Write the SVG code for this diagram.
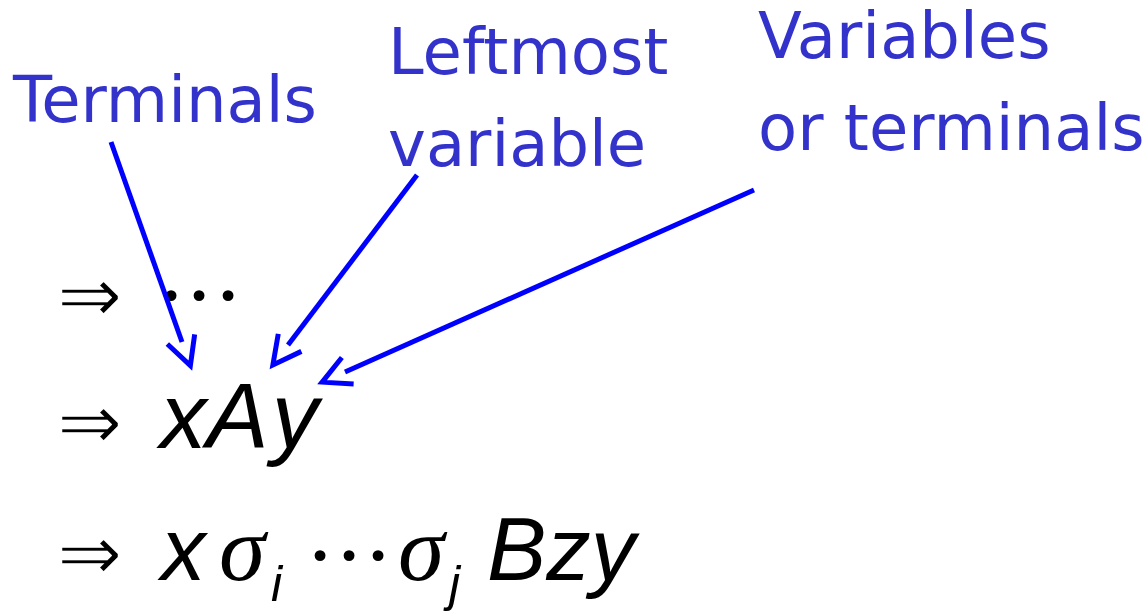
<svg xmlns="http://www.w3.org/2000/svg" width="1148" height="612" viewBox="0 0 1148 612">
<style>
.lbl{font-family:"DejaVu Sans",sans-serif;font-size:64px;fill:#3333cc}
.arr{font-family:"DejaVu Sans",sans-serif;font-size:78px;fill:#000;stroke:#fff;stroke-width:1.5}
.it{font-family:"Liberation Sans",Arial,sans-serif;font-style:italic;font-size:89px;fill:#000}
.big{font-size:93px}
.sg{font-family:"Liberation Serif","Times New Roman",serif;font-style:italic;font-size:94px}
.sub{font-size:50px}
.dot{font-family:"Liberation Serif","Times New Roman",serif;font-size:92px;fill:#000}
.conn{stroke:#0000ff;stroke-width:5;fill:none}
</style>
<defs>
<marker id="vhead" markerUnits="userSpaceOnUse" orient="auto" refX="0" refY="0" markerWidth="60" markerHeight="60" viewBox="-10 -30 60 60" overflow="visible">
<path d="M -3 -14.5 L 25 0 L -3 14.5" fill="none" stroke="#0000ff" stroke-width="5"/>
</marker>
</defs>
<rect width="1148" height="612" fill="#fff"/>
<g id="label-terminals"><text class="lbl" x="13" y="122">Terminals</text></g>
<g id="label-leftmost"><text class="lbl" x="388" y="74">Leftmost</text><text class="lbl" x="388" y="166">variable</text></g>
<g id="label-vars"><text class="lbl" x="758" y="58">Variables</text><text class="lbl" x="758" y="150">or terminals</text></g>
<g id="line1"><text class="arr" x="57" y="322">⇒</text><text class="dot" x="171 199 228" y="326" text-anchor="middle">···</text></g>
<g id="line2"><text class="arr" x="57" y="449">⇒</text><text class="it big" x="160" y="448">x<tspan>A</tspan><tspan dx="4">y</tspan></text></g>
<g id="line3"><text class="arr" x="57" y="580">⇒</text>
<text class="it" y="580"><tspan x="161">x</tspan><tspan class="sg" x="219">σ</tspan><tspan class="sub" x="271" y="601">i</tspan></text>
<text class="dot" x="320 349 378" y="586" text-anchor="middle">···</text>
<text class="it" y="580"><tspan class="sg" x="398">σ</tspan><tspan class="sub" x="449" y="601">j</tspan><tspan x="487" y="580">Bzy</tspan></text>
</g>
<g id="connectors">
<line class="conn" x1="111" y1="142" x2="182" y2="342" marker-end="url(#vhead)"/>
<line class="conn" x1="417" y1="175" x2="288" y2="345" marker-end="url(#vhead)"/>
<line class="conn" x1="754" y1="190" x2="345" y2="372" marker-end="url(#vhead)"/>
</g>
</svg>
